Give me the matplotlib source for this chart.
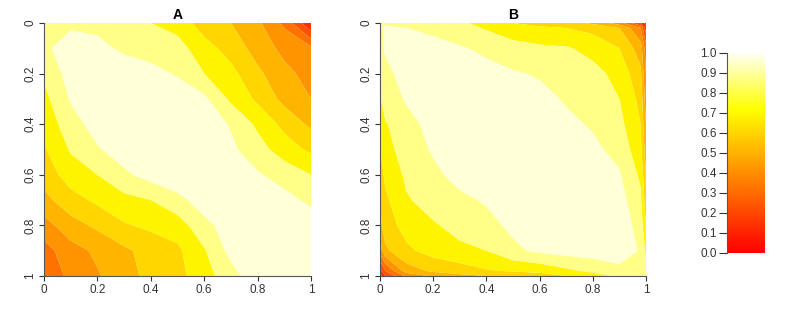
import matplotlib
matplotlib.use("Agg")
import matplotlib.pyplot as plt
import numpy as np
from matplotlib.colors import LinearSegmentedColormap, ListedColormap, BoundaryNorm, Normalize
from matplotlib.cm import ScalarMappable

plt.rcParams['font.family'] = ['Liberation Sans', 'DejaVu Sans']

# grid positions (y = 0 at top)
grid_a = [0.0, 0.1, 0.2, 0.3, 0.4, 0.5, 0.6, 0.7, 0.8, 0.9, 1.0]
grid_b = [0.0, 0.02, 0.1, 0.2, 0.3, 0.4, 0.5, 0.6, 0.7, 0.8, 0.9, 0.98, 1.0]

# panel A, rows = y, cols = x
z_a = [
    [0.86, 0.88, 0.87, 0.84, 0.80, 0.76, 0.65, 0.60, 0.52, 0.38, 0.10],
    [0.88, 0.95, 0.93, 0.88, 0.86, 0.84, 0.74, 0.66, 0.56, 0.47, 0.42],
    [0.82, 0.94, 0.97, 0.96, 0.93, 0.89, 0.80, 0.73, 0.62, 0.53, 0.46],
    [0.77, 0.91, 0.96, 0.98, 0.98, 0.96, 0.92, 0.78, 0.68, 0.57, 0.50],
    [0.73, 0.86, 0.94, 0.97, 0.98, 0.98, 0.96, 0.89, 0.78, 0.67, 0.58],
    [0.69, 0.81, 0.89, 0.95, 0.98, 0.98, 0.97, 0.92, 0.84, 0.75, 0.68],
    [0.64, 0.75, 0.80, 0.88, 0.94, 0.97, 0.98, 0.96, 0.91, 0.86, 0.80],
    [0.57, 0.66, 0.72, 0.77, 0.80, 0.87, 0.95, 0.97, 0.97, 0.93, 0.88],
    [0.46, 0.56, 0.62, 0.69, 0.72, 0.75, 0.87, 0.95, 0.97, 0.97, 0.95],
    [0.36, 0.46, 0.52, 0.58, 0.64, 0.68, 0.79, 0.93, 0.97, 0.97, 0.97],
    [0.28, 0.44, 0.49, 0.56, 0.63, 0.67, 0.76, 0.86, 0.97, 0.97, 0.96],
]

# panel B
z_b = [
    [0.88, 0.89, 0.87, 0.85, 0.82, 0.76, 0.70, 0.68, 0.65, 0.58, 0.45, 0.20, 0.05],
    [0.89, 0.91, 0.90, 0.88, 0.84, 0.79, 0.74, 0.71, 0.70, 0.67, 0.60, 0.40, 0.15],
    [0.87, 0.91, 0.94, 0.93, 0.91, 0.88, 0.84, 0.82, 0.81, 0.77, 0.70, 0.55, 0.35],
    [0.84, 0.88, 0.93, 0.96, 0.95, 0.93, 0.91, 0.89, 0.85, 0.83, 0.77, 0.62, 0.40],
    [0.79, 0.85, 0.91, 0.95, 0.97, 0.97, 0.95, 0.93, 0.89, 0.85, 0.80, 0.67, 0.45],
    [0.75, 0.79, 0.87, 0.93, 0.96, 0.97, 0.97, 0.95, 0.92, 0.89, 0.83, 0.70, 0.50],
    [0.70, 0.76, 0.85, 0.91, 0.95, 0.97, 0.97, 0.97, 0.95, 0.92, 0.87, 0.73, 0.55],
    [0.66, 0.72, 0.82, 0.88, 0.93, 0.96, 0.97, 0.97, 0.96, 0.94, 0.91, 0.78, 0.60],
    [0.62, 0.68, 0.79, 0.84, 0.88, 0.91, 0.95, 0.96, 0.97, 0.96, 0.94, 0.82, 0.65],
    [0.57, 0.65, 0.74, 0.79, 0.83, 0.87, 0.92, 0.95, 0.96, 0.97, 0.96, 0.86, 0.70],
    [0.45, 0.58, 0.68, 0.74, 0.78, 0.80, 0.88, 0.92, 0.94, 0.95, 0.96, 0.89, 0.78],
    [0.15, 0.30, 0.55, 0.62, 0.65, 0.69, 0.71, 0.73, 0.78, 0.82, 0.87, 0.90, 0.88],
    [0.05, 0.20, 0.42, 0.52, 0.57, 0.60, 0.62, 0.65, 0.70, 0.76, 0.82, 0.88, 0.90],
]

levels = [0.0, 0.1, 0.2, 0.3, 0.4, 0.5, 0.6, 0.7, 0.8, 0.9, 1.0]
band_colors = ['#FF1000', '#FF3000', '#FF5200', '#FF7200', '#FF9400', '#FFB400',
               '#FFD600', '#FFF400', '#FFFF88', '#FFFFD8']
tick_vals = [0, 0.2, 0.4, 0.6, 0.8, 1]
tick_labs = ['0', '0.2', '0.4', '0.6', '0.8', '1']
cbar_ticks = [0.0, 0.1, 0.2, 0.3, 0.4, 0.5, 0.6, 0.7, 0.8, 0.9, 1.0]

cmap_bands = ListedColormap(band_colors)
norm_bands = BoundaryNorm(levels, cmap_bands.N)
heat = LinearSegmentedColormap.from_list('heat', [(0.0, '#FF0000'), (0.72, '#FFFF00'), (1.0, '#FFFFF2')])

fig = plt.figure(figsize=(7.89, 3.19), dpi=100)
ax_a = fig.add_axes([0.0558, 0.1348, 0.3384, 0.7931])
ax_b = fig.add_axes([0.4816, 0.1348, 0.3371, 0.7931])
cax = fig.add_axes([0.9214, 0.2069, 0.0482, 0.6270])

for ax, gx, z, title in [(ax_a, grid_a, z_a, 'A'), (ax_b, grid_b, z_b, 'B')]:
    ax.contourf(gx, gx, np.array(z), levels=levels, cmap=cmap_bands, norm=norm_bands, antialiased=True)
    ax.set_xlim(0, 1)
    ax.set_ylim(1, 0)
    ax.set_xticks(tick_vals)
    ax.set_xticklabels(tick_labs)
    ax.set_yticks(tick_vals)
    ax.set_yticklabels(tick_labs, rotation=90, va='center')
    ax.tick_params(labelsize=8.5, colors='#333333', length=3.5, width=0.8, pad=2)
    for s in ['top', 'right']:
        ax.spines[s].set_visible(False)
    for s in ['left', 'bottom']:
        ax.spines[s].set_color('#555555')
        ax.spines[s].set_linewidth(0.8)
    ax.set_title(title, fontsize=10, fontweight='bold', pad=3)

cb = fig.colorbar(ScalarMappable(norm=Normalize(0, 1), cmap=heat), cax=cax)
cb.outline.set_visible(False)
cax.yaxis.set_ticks_position('left')
cb.set_ticks(cbar_ticks)
cb.set_ticklabels(['%.1f' % t for t in cbar_ticks])
cax.tick_params(labelsize=8.5, colors='#333333', length=5.5, width=0.8, pad=2)
cax.spines['left'].set_visible(True)
cax.spines['left'].set_color('#555555')

fig.savefig('out.png', dpi=100)
